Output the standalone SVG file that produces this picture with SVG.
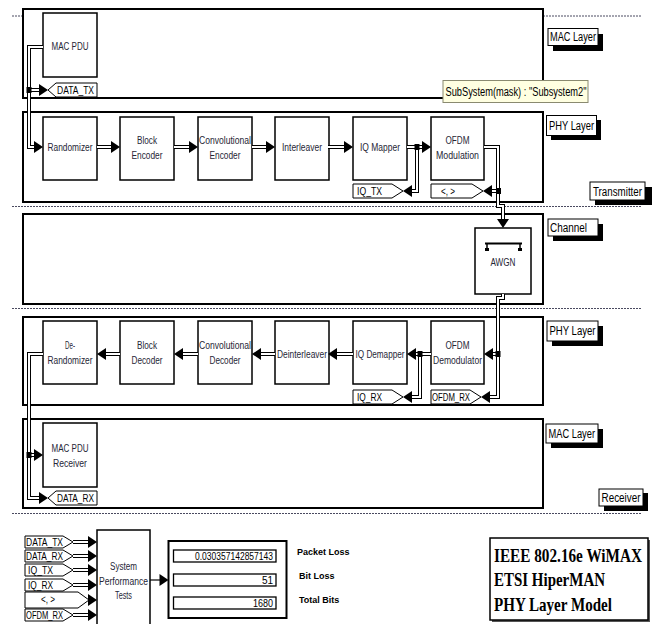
<svg xmlns="http://www.w3.org/2000/svg" xmlns:xlink="http://www.w3.org/1999/xlink" width="657" height="624" viewBox="0 0 657 624">
<style>
.lay{fill:#fff;stroke:#000;stroke-width:2}
.blk{fill:#fff;stroke:#000;stroke-width:1.5}
.dash{stroke:#4a4a60;stroke-width:1;stroke-dasharray:2 1;fill:none}
.t{font-family:"Liberation Sans",Arial,sans-serif;font-size:10px;fill:#262636;text-anchor:middle}
.tl{font-family:"Liberation Sans",Arial,sans-serif;font-size:10px;fill:#000}
.lbl{font-family:"Liberation Sans",Arial,sans-serif;font-size:12px;fill:#000}
.tag{fill:#fff;stroke:#000;stroke-width:1}
.sq{fill:#000}
.shd{fill:#000}
.lb{fill:#fff;stroke:#000;stroke-width:1}
.val{font-family:"Liberation Sans",Arial,sans-serif;font-size:10px;fill:#000;text-anchor:end}
.res{font-family:"Liberation Sans",Arial,sans-serif;font-size:9px;font-weight:bold;fill:#000}
.title{font-family:"Liberation Serif","Times New Roman",serif;font-size:14px;font-weight:bold;fill:#000}
</style>
<defs>
<polygon id="ah" points="0,0 -9,-6 -9,6" fill="#000"/>
<g id="busPaths">
<path d="M43,47 H29 V147 H35"/>
<path d="M29,90 H40"/>
<path d="M97,147 H112"/>
<path d="M174,147 H190"/>
<path d="M252,147 H267"/>
<path d="M328,147 H345"/>
<path d="M407,147 H423"/>
<path d="M417,147 V191 H411"/>
<path d="M484,147 H498 V206 H503 V220"/>
<path d="M498,191 H491"/>
<path d="M503,294 V298 H498 V397 H489"/>
<path d="M498,354 H492"/>
<path d="M431,354 H415"/>
<path d="M420,354 V397 H411"/>
<path d="M353,354 H336"/>
<path d="M275,354 H260"/>
<path d="M198,354 H182"/>
<path d="M120,354 H105"/>
<path d="M43,354 H29 V498 H40"/>
<path d="M29,455 H35"/>
<path d="M73,542 H89"/>
<path d="M73,556 H89"/>
<path d="M73,570 H89"/>
<path d="M73,585 H89"/>
<path d="M73,615 H89"/>
</g>
</defs>
<rect width="657" height="624" fill="#fff"/>

<!-- dashed separators -->
<g id="separators">
<line class="dash" x1="12" y1="16" x2="642" y2="16"/>
<line class="dash" x1="12" y1="206.5" x2="642" y2="206.5"/>
<line class="dash" x1="12" y1="308.5" x2="642" y2="308.5"/>
<line class="dash" x1="12" y1="513.5" x2="642" y2="513.5"/>
</g>

<!-- layer subsystems -->
<g id="mac-tx"><rect class="lay" x="23" y="9" width="520" height="89"/></g>
<g id="phy-tx"><rect class="lay" x="23" y="112" width="520" height="90"/></g>
<g id="channel"><rect class="lay" x="23" y="214" width="520" height="90"/></g>
<g id="phy-rx"><rect class="lay" x="23" y="317" width="520" height="88"/></g>
<g id="mac-rx"><rect class="lay" x="23" y="419" width="520" height="89"/></g>

<!-- layer labels -->
<g id="lbl-mac-tx"><rect class="shd" x="553" y="34" width="50" height="17"/><rect class="lb" x="548" y="28.5" width="50" height="17"/><text class="lbl" x="550" y="41" textLength="46" lengthAdjust="spacingAndGlyphs">MAC Layer</text></g>
<g id="lbl-phy-tx"><rect class="shd" x="551" y="120" width="50" height="20"/><rect class="lb" x="546.5" y="115.5" width="50" height="20"/><text class="lbl" x="549" y="130" textLength="45" lengthAdjust="spacingAndGlyphs">PHY Layer</text></g>
<g id="lbl-transmitter"><rect class="shd" x="595" y="187" width="57" height="18"/><rect class="lb" x="590" y="182" width="55" height="18"/><text class="lbl" x="593" y="195.5" textLength="49" lengthAdjust="spacingAndGlyphs">Transmitter</text></g>
<g id="lbl-channel"><rect class="shd" x="553" y="224" width="50" height="17"/><rect class="lb" x="548" y="219" width="50" height="17"/><text class="lbl" x="550" y="231.5" textLength="37" lengthAdjust="spacingAndGlyphs">Channel</text></g>
<g id="lbl-phy-rx"><rect class="shd" x="552" y="326" width="51" height="20"/><rect class="lb" x="547" y="321" width="51" height="20"/><text class="lbl" x="549.5" y="334.5" textLength="46" lengthAdjust="spacingAndGlyphs">PHY Layer</text></g>
<g id="lbl-mac-rx"><rect class="shd" x="551" y="429" width="52" height="19"/><rect class="lb" x="546" y="424" width="52" height="19"/><text class="lbl" x="548.5" y="437.5" textLength="46.5" lengthAdjust="spacingAndGlyphs">MAC Layer</text></g>
<g id="lbl-receiver"><rect class="shd" x="604" y="493" width="44" height="18"/><rect class="lb" x="599" y="489" width="44" height="17"/><text class="lbl" x="601.5" y="502" textLength="39" lengthAdjust="spacingAndGlyphs">Receiver</text></g>

<!-- TX blocks -->
<g id="mac-pdu"><rect class="blk" x="43" y="13" width="54" height="64"/><text class="t" x="70" y="50" textLength="37" lengthAdjust="spacingAndGlyphs">MAC PDU</text></g>
<g id="randomizer"><rect class="blk" x="43" y="117" width="54" height="63"/><text class="t" x="70" y="150.5" textLength="45" lengthAdjust="spacingAndGlyphs">Randomizer</text></g>
<g id="block-encoder"><rect class="blk" x="120" y="117" width="54" height="63"/><text class="t" x="147" y="143.5" textLength="20" lengthAdjust="spacingAndGlyphs">Block</text><text class="t" x="147" y="158.5" textLength="31" lengthAdjust="spacingAndGlyphs">Encoder</text></g>
<g id="conv-encoder"><rect class="blk" x="198" y="117" width="54" height="63"/><text class="t" x="225" y="143.5" textLength="52" lengthAdjust="spacingAndGlyphs">Convolutional</text><text class="t" x="225" y="158.5" textLength="31" lengthAdjust="spacingAndGlyphs">Encoder</text></g>
<g id="interleaver"><rect class="blk" x="275" y="117" width="54" height="63"/><text class="t" x="302" y="150.5" textLength="40" lengthAdjust="spacingAndGlyphs">Interleaver</text></g>
<g id="iq-mapper"><rect class="blk" x="353" y="117" width="54" height="63"/><text class="t" x="380" y="150.5" textLength="40" lengthAdjust="spacingAndGlyphs">IQ Mapper</text></g>
<g id="ofdm-mod"><rect class="blk" x="431" y="117" width="53" height="63"/><text class="t" x="457.5" y="143.5" textLength="24" lengthAdjust="spacingAndGlyphs">OFDM</text><text class="t" x="457.5" y="158.5" textLength="43" lengthAdjust="spacingAndGlyphs">Modulation</text></g>

<!-- Channel -->
<g id="awgn"><rect class="blk" x="475" y="228" width="56" height="66"/>
<path d="M485,243.5 H522" stroke="#000" stroke-width="2"/>
<path d="M487,243 V249 M520,243 V249" stroke="#000" stroke-width="1.5"/>
<path d="M485,248 h4 v3 h-4 z M518,248 h4 v3 h-4 z" fill="#000"/>
<text class="t" x="503" y="265.5" textLength="25" lengthAdjust="spacingAndGlyphs" fill="#1e2060">AWGN</text></g>

<!-- RX blocks -->
<g id="de-randomizer"><rect class="blk" x="43" y="321" width="54" height="63"/><text class="t" x="70" y="349" textLength="10" lengthAdjust="spacingAndGlyphs">De-</text><text class="t" x="70" y="364" textLength="45" lengthAdjust="spacingAndGlyphs">Randomizer</text></g>
<g id="block-decoder"><rect class="blk" x="120" y="321" width="54" height="63"/><text class="t" x="147" y="349" textLength="20" lengthAdjust="spacingAndGlyphs">Block</text><text class="t" x="147" y="364" textLength="31" lengthAdjust="spacingAndGlyphs">Decoder</text></g>
<g id="conv-decoder"><rect class="blk" x="198" y="321" width="54" height="63"/><text class="t" x="225" y="349" textLength="52" lengthAdjust="spacingAndGlyphs">Convolutional</text><text class="t" x="225" y="364" textLength="31" lengthAdjust="spacingAndGlyphs">Decoder</text></g>
<g id="deinterleaver"><rect class="blk" x="275" y="321" width="54" height="63"/><text class="t" x="302" y="357.5" textLength="50" lengthAdjust="spacingAndGlyphs">Deinterleaver</text></g>
<g id="iq-demapper"><rect class="blk" x="353" y="321" width="54" height="63"/><text class="t" x="380" y="357.5" textLength="49" lengthAdjust="spacingAndGlyphs">IQ Demapper</text></g>
<g id="ofdm-demod"><rect class="blk" x="431" y="321" width="53" height="63"/><text class="t" x="457.5" y="349" textLength="24" lengthAdjust="spacingAndGlyphs">OFDM</text><text class="t" x="457.5" y="364" textLength="49" lengthAdjust="spacingAndGlyphs">Demodulator</text></g>
<g id="mac-pdu-rx"><rect class="blk" x="43" y="423" width="54" height="64"/><text class="t" x="70" y="451.5" textLength="37" lengthAdjust="spacingAndGlyphs">MAC PDU</text><text class="t" x="70" y="466.5" textLength="34" lengthAdjust="spacingAndGlyphs">Receiver</text></g>

<!-- Goto tags -->
<g id="goto-data-tx"><polygon class="tag" points="48,90 56,83 97,83 97,97 56,97"/><text class="tl" x="57" y="94" textLength="37" lengthAdjust="spacingAndGlyphs">DATA_TX</text></g>
<g id="goto-iq-tx"><polygon class="tag" points="353,184 392,184 403,191 392,198 353,198"/><text class="tl" x="357" y="195" textLength="25" lengthAdjust="spacingAndGlyphs">IQ_TX</text></g>
<g id="goto-ofdm-tx"><polygon class="tag" points="431,184 472,184 483,191 472,198 431,198"/><text class="tl" x="441" y="194.5" textLength="14" lengthAdjust="spacingAndGlyphs">&lt;, &gt;</text></g>
<g id="goto-iq-rx"><polygon class="tag" points="353,390 392,390 403,397 392,404 353,404"/><text class="tl" x="357" y="401" textLength="25" lengthAdjust="spacingAndGlyphs">IQ_RX</text></g>
<g id="goto-ofdm-rx"><polygon class="tag" points="431,390 470,390 481,397 470,404 431,404"/><text class="tl" x="432" y="401" textLength="38" lengthAdjust="spacingAndGlyphs">OFDM_RX</text></g>
<g id="goto-data-rx"><polygon class="tag" points="48,498 56,491 97,491 97,505 56,505"/><text class="tl" x="57" y="502" textLength="37" lengthAdjust="spacingAndGlyphs">DATA_RX</text></g>

<!-- tooltip -->
<g id="tooltip"><rect x="443" y="80.5" width="145" height="22" fill="#ffffe1" stroke="#8a8a70" stroke-width="1"/><text class="lbl" x="445.5" y="96" textLength="141" lengthAdjust="spacingAndGlyphs">SubSystem(mask) : "Subsystem2"</text></g>

<!-- From tags (bottom) -->
<g id="from-data-tx"><polygon class="tag" points="25,536 63,536 73,542 63,548 25,548"/><text class="tl" x="26" y="546" textLength="37" lengthAdjust="spacingAndGlyphs">DATA_TX</text></g>
<g id="from-data-rx"><polygon class="tag" points="25,550 63,550 73,556 63,562 25,562"/><text class="tl" x="26" y="560" textLength="37" lengthAdjust="spacingAndGlyphs">DATA_RX</text></g>
<g id="from-iq-tx"><polygon class="tag" points="25,564 63,564 73,570 63,576 25,576"/><text class="tl" x="28" y="574" textLength="25" lengthAdjust="spacingAndGlyphs">IQ_TX</text></g>
<g id="from-iq-rx"><polygon class="tag" points="25,579 63,579 73,585 63,591 25,591"/><text class="tl" x="28" y="589" textLength="25" lengthAdjust="spacingAndGlyphs">IQ_RX</text></g>
<g id="from-ofdm-tx"><polygon class="tag" points="25,592 78,592 89,600 78,608 25,608"/><text class="tl" x="41" y="603" textLength="14" lengthAdjust="spacingAndGlyphs">&lt;, &gt;</text></g>
<g id="from-ofdm-rx"><polygon class="tag" points="25,609 63,609 73,615 63,621 25,621"/><text class="tl" x="26" y="619" textLength="37" lengthAdjust="spacingAndGlyphs">OFDM_RX</text></g>

<g id="sys-perf"><rect class="blk" x="97" y="530" width="53" height="100"/><text class="t" x="123.5" y="570" textLength="27" lengthAdjust="spacingAndGlyphs">System</text><text class="t" x="123.5" y="585" textLength="49" lengthAdjust="spacingAndGlyphs">Performance</text><text class="t" x="123.5" y="598.5" textLength="17" lengthAdjust="spacingAndGlyphs">Tests</text></g>

<g id="display"><rect x="168.5" y="541" width="118" height="77" fill="#fff" stroke="#000" stroke-width="2"/>
<rect x="173.5" y="550" width="102.5" height="12" fill="#fff" stroke="#000" stroke-width="1.3"/>
<rect x="173.5" y="574" width="102.5" height="12" fill="#fff" stroke="#000" stroke-width="1.3"/>
<rect x="173.5" y="597" width="102.5" height="12" fill="#fff" stroke="#000" stroke-width="1.3"/>
<text class="val" x="273" y="559.5" textLength="78" lengthAdjust="spacingAndGlyphs">0.030357142857143</text>
<text class="val" x="273" y="583.5">51</text>
<text class="val" x="273" y="606.5" textLength="20" lengthAdjust="spacingAndGlyphs">1680</text></g>

<g id="results-labels"><text class="res" x="297" y="555">Packet Loss</text><text class="res" x="299" y="579">Bit Loss</text><text class="res" x="299" y="603">Total Bits</text></g>

<g id="title"><rect x="492" y="540" width="158" height="82" fill="#555"/><rect x="490" y="538" width="158" height="82" fill="#fff" stroke="#000" stroke-width="1.5"/>
<text class="title" transform="translate(494,561.5) scale(1,1.42)" textLength="148" lengthAdjust="spacingAndGlyphs">IEEE 802.16e WiMAX</text>
<text class="title" transform="translate(494,586) scale(1,1.42)" textLength="111" lengthAdjust="spacingAndGlyphs">ETSI HiperMAN</text>
<text class="title" transform="translate(494,610.5) scale(1,1.42)" textLength="118" lengthAdjust="spacingAndGlyphs">PHY Layer Model</text></g>

<!-- connectors -->
<g id="connectors">
<use xlink:href="#busPaths" fill="none" stroke="#000" stroke-width="4"/>
<use xlink:href="#busPaths" fill="none" stroke="#fff" stroke-width="2"/>
<path d="M150,580 H161" stroke="#000" stroke-width="1.2" fill="none"/>
<use xlink:href="#ah" transform="translate(43,147)"/>
<use xlink:href="#ah" transform="translate(48,90)"/>
<use xlink:href="#ah" transform="translate(120,147)"/>
<use xlink:href="#ah" transform="translate(198,147)"/>
<use xlink:href="#ah" transform="translate(275,147)"/>
<use xlink:href="#ah" transform="translate(353,147)"/>
<use xlink:href="#ah" transform="translate(431,147)"/>
<use xlink:href="#ah" transform="translate(403,191) rotate(180)"/>
<use xlink:href="#ah" transform="translate(503,228) rotate(90)"/>
<use xlink:href="#ah" transform="translate(483,191) rotate(180)"/>
<use xlink:href="#ah" transform="translate(481,397) rotate(180)"/>
<use xlink:href="#ah" transform="translate(484,354) rotate(180)"/>
<use xlink:href="#ah" transform="translate(407,354) rotate(180)"/>
<use xlink:href="#ah" transform="translate(403,397) rotate(180)"/>
<use xlink:href="#ah" transform="translate(328,354) rotate(180)"/>
<use xlink:href="#ah" transform="translate(252,354) rotate(180)"/>
<use xlink:href="#ah" transform="translate(174,354) rotate(180)"/>
<use xlink:href="#ah" transform="translate(97,354) rotate(180)"/>
<use xlink:href="#ah" transform="translate(48,498)"/>
<use xlink:href="#ah" transform="translate(43,455)"/>
<use xlink:href="#ah" transform="translate(97,542)"/>
<use xlink:href="#ah" transform="translate(97,556)"/>
<use xlink:href="#ah" transform="translate(97,570)"/>
<use xlink:href="#ah" transform="translate(97,585)"/>
<use xlink:href="#ah" transform="translate(97,600)"/>
<use xlink:href="#ah" transform="translate(97,615)"/>
<use xlink:href="#ah" transform="translate(168.5,580)"/>
<rect class="sq" x="26.5" y="87" width="5" height="6"/>
<rect class="sq" x="414.5" y="144" width="5" height="6"/>
<rect class="sq" x="496" y="188" width="5" height="6"/>
<rect class="sq" x="495.5" y="351" width="5" height="6"/>
<rect class="sq" x="417.5" y="351" width="5" height="6"/>
<rect class="sq" x="26.5" y="452" width="5" height="6"/>
</g>
</svg>
